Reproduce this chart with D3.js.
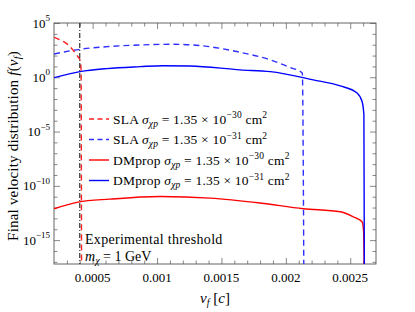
<!DOCTYPE html>
<html lang="en">
  <head>
    <meta charset="UTF-8">
    <script src="https://cdn.jsdelivr.net/npm/d3@7/dist/d3.min.js"></script>
    <title>Final velocity distribution</title>
    <style>
    body { margin: 0; background: #fff; }
    svg { font-family: "Liberation Serif", serif; }
    </style>
  </head>
  <body>
    <div id="chart"></div>
    <script>

// velocities (in units of c) and f(v_f) values
const slaRedV  = [0.0002, 0.000247, 0.000301, 0.000348, 0.000387, 0.000402, 0.00041, 0.000414];
const slaRedF  = [4.8e3, 2.8e3, 1.2e3, 3.2e2, 74, 40, 6.3, 1e-19];

const slaBlueV = [0.0002, 0.000402, 0.00061, 0.000868, 0.001125, 0.001387, 0.001646, 0.001879, 0.002034, 0.002128, 0.00214];
const slaBlueF = [1.4e2, 3.8e2, 6.6e2, 9.5e2, 1.1e3, 7.1e2, 2.0e2, 40, 7.9, 2.5, 1e-19];

const dmBlueV  = [0.0002, 0.000402, 0.00061, 0.000868, 0.001047, 0.001257, 0.001646, 0.001879, 0.002213, 0.002423, 0.002553, 0.002592, 0.002606, 0.00261];
const dmBlueF  = [0.93, 3.3, 6.3, 9.5, 11.7, 11, 4.8, 3.3, 0.58, 0.16, 0.036, 5.8e-3, 3.5e-4, 1e-19];

const dmRedV   = [0.0002, 0.000387, 0.000635, 0.001024, 0.001413, 0.001801, 0.002136, 0.002423, 0.002524, 0.002592, 0.002604, 0.00261];
const dmRedF   = [7.8e-13, 3.2e-12, 6.0e-12, 1.05e-11, 7.4e-12, 2.6e-12, 7.8e-13, 4.1e-13, 1.4e-13, 5e-14, 6.3e-15, 1e-19];

const threshold = 0.0004;

const xMajor = [0.0005, 0.001, 0.0015, 0.002, 0.0025];
const xMajorLabels = ["0.0005", "0.001", "0.0015", "0.002", "0.0025"];
const yMajorExp = [5, 0, -5, -10, -15];

const width  = 415;
const height = 312;
const margin = { top: 23, right: 39, bottom: 48, left: 54 };

const x = d3.scaleLinear()
  .domain([0.0002, 0.0027])
  .range([margin.left, width - margin.right]);

const y = d3.scaleLog()
  .domain([Math.pow(10, -17.2), 1e5])
  .range([height - margin.bottom, margin.top]);

const svg = d3.select("#chart")
  .append("svg")
  .attr("width", width)
  .attr("height", height)
  .attr("viewBox", [0, 0, width, height]);

svg.append("defs")
  .append("clipPath")
  .attr("id", "plot-clip")
  .append("rect")
  .attr("x", margin.left)
  .attr("y", margin.top)
  .attr("width", x.range()[1] - margin.left)
  .attr("height", y.range()[0] - margin.top);

// ticks, pointing inward on every side
const xMinor = d3.range(3, 27).map(d => d / 10000).filter(d => !xMajor.some(m => Math.abs(m - d) < 1e-9));
const yMinor = d3.range(-17, 5).filter(d => !yMajorExp.includes(d)).map(d => Math.pow(10, d));
const yMajor = yMajorExp.map(d => Math.pow(10, d));

const tickColour = "#555";

function addAxis(axis, transform) {
  const g = svg.append("g").attr("transform", transform).call(axis);
  g.selectAll("text").remove();
  g.select(".domain").remove();
  g.selectAll("line").attr("stroke", tickColour).attr("stroke-width", 0.7);
}

addAxis(d3.axisBottom(x).tickValues(xMajor).tickSize(-6), `translate(0,${y.range()[0]})`);
addAxis(d3.axisBottom(x).tickValues(xMinor).tickSize(-3.5), `translate(0,${y.range()[0]})`);
addAxis(d3.axisTop(x).tickValues(xMajor).tickSize(-6), `translate(0,${margin.top})`);
addAxis(d3.axisTop(x).tickValues(xMinor).tickSize(-3.5), `translate(0,${margin.top})`);
addAxis(d3.axisLeft(y).tickValues(yMajor).tickSize(-6), `translate(${margin.left},0)`);
addAxis(d3.axisLeft(y).tickValues(yMinor).tickSize(-3.5), `translate(${margin.left},0)`);
addAxis(d3.axisRight(y).tickValues(yMajor).tickSize(-6), `translate(${x.range()[1]},0)`);
addAxis(d3.axisRight(y).tickValues(yMinor).tickSize(-3.5), `translate(${x.range()[1]},0)`);

// frame
svg.append("rect")
  .attr("x", margin.left)
  .attr("y", margin.top)
  .attr("width", x.range()[1] - margin.left)
  .attr("height", y.range()[0] - margin.top)
  .attr("fill", "none")
  .attr("stroke", tickColour)
  .attr("stroke-width", 0.9);

// tick labels
svg.append("g")
  .selectAll("text")
  .data(xMajor)
  .join("text")
  .attr("x", d => x(d))
  .attr("y", y.range()[0] + 18)
  .attr("text-anchor", "middle")
  .attr("font-size", 13)
  .text((d, i) => xMajorLabels[i]);

const yLab = svg.append("g")
  .selectAll("text")
  .data(yMajorExp)
  .join("text")
  .attr("x", margin.left - 4)
  .attr("y", d => y(Math.pow(10, d)) + 4.5)
  .attr("text-anchor", "end")
  .attr("font-size", 13);
yLab.append("tspan").text("10");
yLab.append("tspan")
  .attr("dy", -6.5)
  .attr("font-size", 9)
  .text(d => d < 0 ? "\u2212" + (-d) : d);

// curves
const line = d3.line()
  .x(d => x(d[0]))
  .y(d => y(d[1]))
  .curve(d3.curveMonotoneX);

const series = [
  { v: dmRedV,   f: dmRedF,   colour: "#ff0000", dash: null },
  { v: dmBlueV,  f: dmBlueF,  colour: "#0000ff", dash: null },
  { v: slaBlueV, f: slaBlueF, colour: "#2f2fff", dash: "6,4" },
  { v: slaRedV,  f: slaRedF,  colour: "#ff2020", dash: "6,4" }
];

const plot = svg.append("g").attr("clip-path", "url(#plot-clip)");

plot.selectAll("path.curve")
  .data(series)
  .join("path")
  .attr("class", "curve")
  .attr("fill", "none")
  .attr("stroke", d => d.colour)
  .attr("stroke-width", 1.4)
  .attr("stroke-dasharray", d => d.dash)
  .attr("d", d => line(d.v.map((v, i) => [v, d.f[i]])));

// experimental threshold
plot.append("line")
  .attr("x1", x(threshold))
  .attr("x2", x(threshold))
  .attr("y1", margin.top)
  .attr("y2", y.range()[0])
  .attr("stroke", "#222")
  .attr("stroke-width", 1.1)
  .attr("stroke-dasharray", "5,2,1,2");

// legend
const legendItems = [
  { name: "SLA",    exp: "\u221230", colour: "#ff2020", dash: "6,4" },
  { name: "SLA",    exp: "\u221231", colour: "#2f2fff", dash: "6,4" },
  { name: "DMprop", exp: "\u221230", colour: "#ff0000", dash: null },
  { name: "DMprop", exp: "\u221231", colour: "#0000ff", dash: null }
];

const legend = svg.append("g")
  .selectAll("g")
  .data(legendItems)
  .join("g")
  .attr("transform", (d, i) => `translate(89,${119 + i * 20.5})`);

legend.append("line")
  .attr("x1", 0)
  .attr("x2", 20)
  .attr("stroke", d => d.colour)
  .attr("stroke-width", 1.4)
  .attr("stroke-dasharray", d => d.dash ? "5,3.5" : null);

const lt = legend.append("text")
  .attr("x", 24)
  .attr("y", 4.5)
  .attr("font-size", 13.5)
  .attr("letter-spacing", 0.2);
lt.append("tspan").text(d => d.name + " ");
lt.append("tspan").attr("font-style", "italic").text("\u03c3");
lt.append("tspan").attr("font-style", "italic").attr("font-size", 9.5).attr("dy", 3).text("\u03c7p");
lt.append("tspan").attr("dy", -3).text(" = 1.35 \u00d7 10");
lt.append("tspan").attr("font-size", 9.5).attr("dy", -5.5).text(d => d.exp);
lt.append("tspan").attr("dy", 5.5).text(" cm");
lt.append("tspan").attr("font-size", 9.5).attr("dy", -5.5).text("2");

// annotation
svg.append("text")
  .attr("x", 85)
  .attr("y", 244)
  .attr("font-size", 14)
  .attr("letter-spacing", 0.3)
  .text("Experimental threshold");

const mText = svg.append("text")
  .attr("x", 85)
  .attr("y", 261)
  .attr("font-size", 14);
mText.append("tspan").attr("font-style", "italic").text("m");
mText.append("tspan").attr("font-style", "italic").attr("font-size", 10).attr("dy", 3).text("\u03c7");
mText.append("tspan").attr("dy", -3).text(" = 1 GeV");

// axis titles
const xt = svg.append("text")
  .attr("x", 215)
  .attr("y", 303)
  .attr("text-anchor", "middle")
  .attr("font-size", 15);
xt.append("tspan").attr("font-style", "italic").text("v");
xt.append("tspan").attr("font-style", "italic").attr("font-size", 10).attr("dy", 3).text("f");
xt.append("tspan").attr("dy", -3).text("  [");
xt.append("tspan").attr("font-style", "italic").text("c");
xt.append("tspan").text("]");

const yt = svg.append("text")
  .attr("transform", "translate(18,146) rotate(-90)")
  .attr("text-anchor", "middle")
  .attr("font-size", 15)
  .attr("letter-spacing", 0.2);
yt.append("tspan").text("Final velocity distribution ");
yt.append("tspan").attr("font-style", "italic").text("f");
yt.append("tspan").text("(");
yt.append("tspan").attr("font-style", "italic").text("v");
yt.append("tspan").attr("font-style", "italic").attr("font-size", 10).attr("dy", 3).text("f");
yt.append("tspan").attr("dy", -3).text(")");

    </script>
  </body>
</html>
